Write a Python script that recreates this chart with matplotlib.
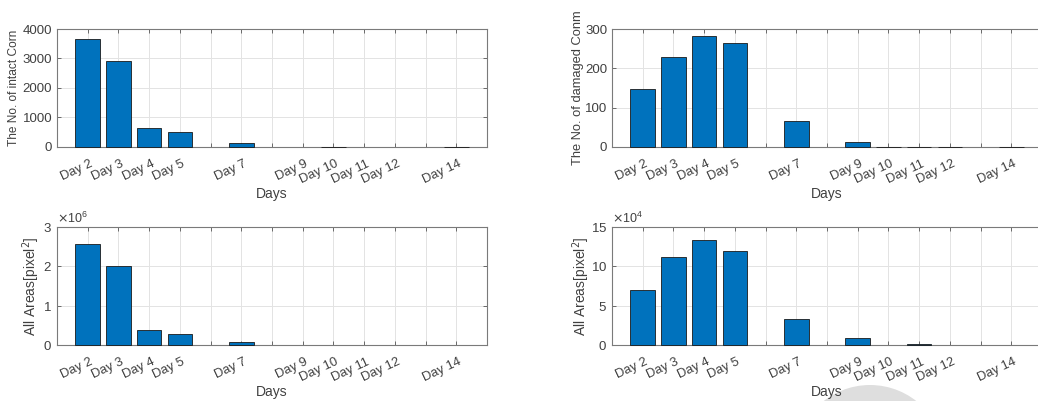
import numpy as np
import matplotlib
matplotlib.use("Agg")
import matplotlib.pyplot as plt
from matplotlib.ticker import ScalarFormatter, FixedLocator, NullFormatter
from matplotlib.patches import Ellipse
from matplotlib.transforms import ScaledTranslation, blended_transform_factory

plt.rcParams['font.family'] = ['Liberation Sans', 'DejaVu Sans']

# Day numbers and the tick labels shown under the bars
days = [2, 3, 4, 5, 7, 9, 10, 11, 12, 14]
day_labels = ["Day 2", "Day 3", "Day 4", "Day 5", "Day 7",
              "Day 9", "Day 10", "Day 11", "Day 12", "Day 14"]

# Counts of intact and damaged corn per day
intact_count = [3670, 2925, 635, 500, 130, 0, 8, 0, 0, 8]
damaged_count = [148, 229, 283, 264, 65, 12, 1, 1, 1, 1]

# Total areas in pixel^2
intact_area = [2.58e6, 2.00e6, 0.39e6, 0.29e6, 0.077e6, 0, 0, 0, 0, 0]
damaged_area = [6.93e4, 11.2e4, 13.3e4, 11.95e4, 3.36e4, 0.89e4, 0, 0.08e4, 0, 0]

W, H = 1038, 401
fig = plt.figure(figsize=(W / 100, H / 100), dpi=100)

TXT = '#404040'
BAR = '#0072BD'
EDGE = '#1a1a1a'
AX_W = 430.0


def ax_rect(x0, x1, ytop, ybot):
    return [x0 / W, 1 - ybot / H, (x1 - x0) / W, (ybot - ytop) / H]


def style(ax, ylabel, yticks, ymax, label_x, label_size, sci=None):
    ax.set_xlim(1, 15)
    ax.set_ylim(0, ymax)
    ax.xaxis.set_major_locator(FixedLocator(list(range(2, 15))))
    ax.xaxis.set_major_formatter(NullFormatter())
    # rotated day labels, anchored at their upper right corner
    trans = blended_transform_factory(ax.transData, ax.transAxes) + \
        ScaledTranslation(2 / 100, -11 / 100, fig.dpi_scale_trans)
    for d, lab in zip(days, day_labels):
        ax.text(d, 0, lab, transform=trans, rotation=25, ha='right',
                va='top', rotation_mode='anchor', fontsize=9.3, color=TXT,
                clip_on=False)
    ax.set_yticks(yticks)
    ax.tick_params(axis='both', direction='in', length=3, width=0.6,
                   colors='#555555', labelcolor=TXT, labelsize=9.5,
                   top=True, right=True)
    ax.grid(True, color='#e3e3e3', linewidth=0.7)
    ax.set_axisbelow(True)
    for s in ax.spines.values():
        s.set_color('#7a7a7a')
        s.set_linewidth(0.8)
    ax.set_xlabel("Days", fontsize=10, color=TXT)
    ax.xaxis.set_label_coords(0.5, -40 / 118)
    ax.set_ylabel(ylabel, fontsize=label_size, color=TXT)
    ax.yaxis.set_label_coords(label_x, 0.5)
    if sci is not None:
        fmt = ScalarFormatter(useMathText=True)
        fmt.set_powerlimits((sci, sci))
        ax.yaxis.set_major_formatter(fmt)
        ot = ax.yaxis.get_offset_text()
        ot.set_fontsize(9)
        ot.set_color(TXT)


def draw_bars(ax, values):
    x = [d for d, v in zip(days, values) if v > 0]
    y = [v for v in values if v > 0]
    bars = ax.bar(x, y, width=0.8, color=BAR, edgecolor=EDGE,
                  linewidth=0.6, zorder=3)
    for b in bars:
        b.set_clip_on(False)


ax1 = fig.add_axes(ax_rect(57, 487, 29, 147))
draw_bars(ax1, intact_count)
style(ax1, "The No. of intact Corn", [0, 1000, 2000, 3000, 4000], 4000,
      (20 - 57) / AX_W, 8.6)

ax2 = fig.add_axes(ax_rect(612, 1042, 29, 147))
draw_bars(ax2, damaged_count)
style(ax2, "The No. of damaged Conm", [0, 100, 200, 300], 300,
      (584 - 612) / AX_W, 9.3)

ax3 = fig.add_axes(ax_rect(57, 487, 227, 345))
draw_bars(ax3, intact_area)
style(ax3, "All Areas[pixel$^2$]", [0, 1e6, 2e6, 3e6], 3e6,
      (42 - 57) / AX_W, 10, sci=6)

ax4 = fig.add_axes(ax_rect(612, 1042, 227, 345))
draw_bars(ax4, damaged_area)
style(ax4, "All Areas[pixel$^2$]", [0, 5e4, 10e4, 15e4], 15e4,
      (592 - 612) / AX_W, 10, sci=4)

# faint round stamp at the bottom edge
fig.patches.append(Ellipse((870 / W, 1 - 460 / H), 150 / W, 150 / H,
                           transform=fig.transFigure, facecolor='#dedede',
                           edgecolor='none', zorder=-1))

fig.savefig("out.png", dpi=100, facecolor='white')
